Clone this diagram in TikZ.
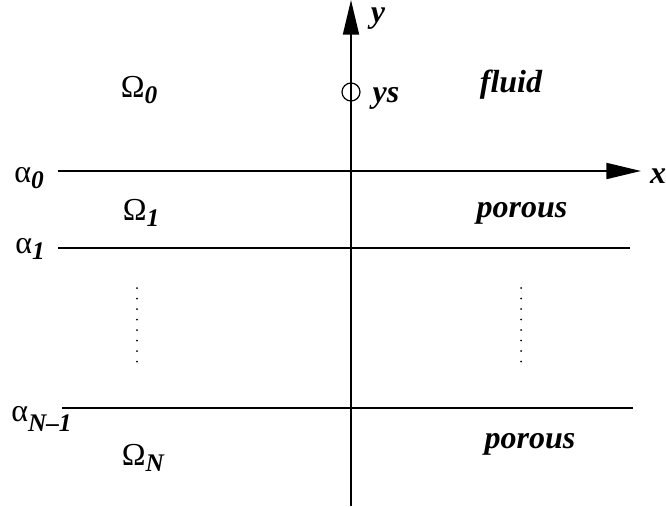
\documentclass[tikz,border=0pt]{standalone}
\usepackage{fontspec}
\setmainfont{Liberation Serif}
\usetikzlibrary{arrows.meta}
\newcommand{\lsub}[1]{\raisebox{-0.4ex}{\fontsize{19}{19}\selectfont\bfseries\itshape #1}}
\begin{document}
\begin{tikzpicture}[x=0.75pt, y=-0.75pt, >={Triangle[length=26pt, width=12pt]},
    axis/.style={line width=1.4pt},
    layer/.style={line width=1.4pt},
    lbl/.style={font=\fontsize{24}{28}\selectfont, inner sep=0pt},
    txt/.style={font=\fontsize{24}{28}\selectfont\bfseries\itshape, inner sep=0pt}]
\useasboundingbox (0,0) rectangle (666,506);

% === Axes ===
\coordinate (xs) at (58,171);
\coordinate (xe) at (641,171);
\coordinate (ybot) at (351,506);
\coordinate (ytop) at (351,0);
\draw[axis,->] (xs) -- (xe);
\draw[axis,->] (ybot) -- (ytop);
\node[txt] (xlab) at (658,176) {x};
\node[txt, anchor=base] (ylab) at (378,23) {y};

% === Layer interfaces ===
\coordinate (a1s) at (58,248);
\coordinate (a1e) at (630,248);
\coordinate (ans) at (62,408);
\coordinate (ane) at (633,408);
\draw[layer] (a1s) -- (a1e);
\draw[layer] (ans) -- (ane);

% === Source point ===
\node[draw, circle, line width=0.9pt, minimum size=13.5pt, inner sep=0pt] (src) at (351,92) {};
\node[txt] (yslab) at (386,98) {ys};

% === Region labels ===
\node[lbl] (om0) at (139,90)  {Ω\lsub{0}};
\node[lbl] (om1) at (141,213) {Ω\lsub{1}};
\node[lbl] (omN) at (143,458) {Ω\lsub{N}};
\node[lbl] (al0) at (29,178)  {α\lsub{0}};
\node[lbl] (al1) at (30,249)  {α\lsub{1}};
\node[lbl, anchor=base west] (alN) at (11,421) {α\raisebox{-0.3ex}{\lsub{N–1}}};
\node[txt] (fl)  at (511,85)  {fluid};
\node[txt] (po1) at (522,213) {porous};
\node[txt] (poN) at (530,444) {porous};

% === Vertical dots ===
\foreach \k in {0,...,7} {
  \fill (137,288+\k*10.5) circle (1);
  \fill (521,288+\k*10.5) circle (1);
}
\end{tikzpicture}
\end{document}
